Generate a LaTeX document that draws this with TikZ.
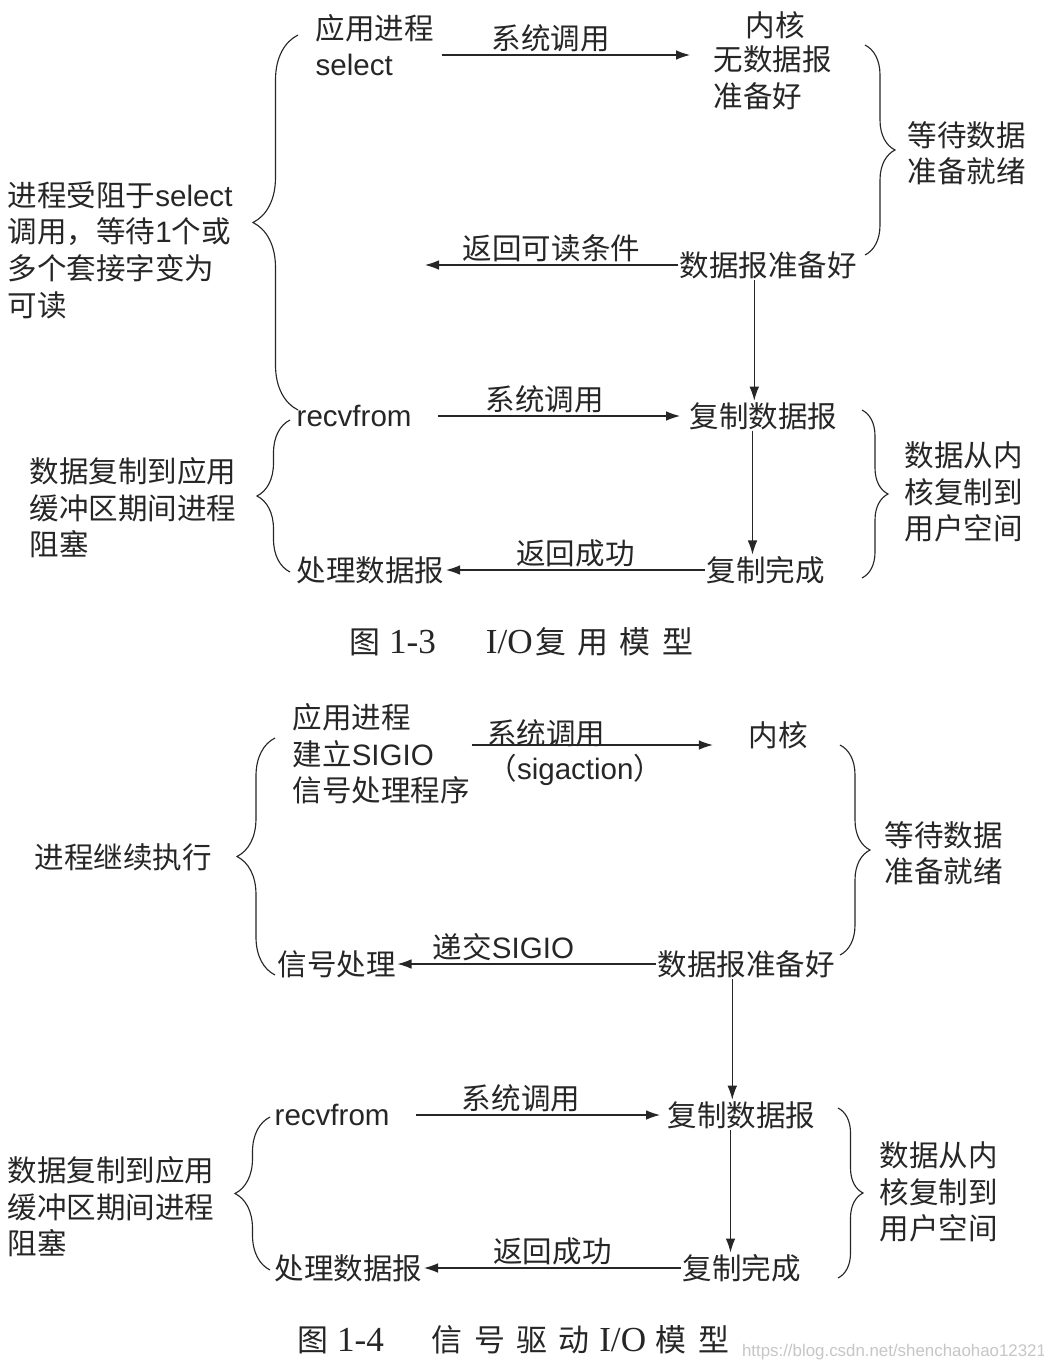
\documentclass[tikz,border=0pt]{standalone}
\usepackage{fontspec}
\setmainfont{Liberation Sans}
\newfontfamily\cjk{Noto Sans CJK SC}
\newfontfamily\ltn{Liberation Sans}
\newfontfamily\capserif{Liberation Serif}
\usetikzlibrary{arrows.meta,calc,decorations.pathreplacing}
\colorlet{ink}{black!85}

\begin{document}
\begin{tikzpicture}[x=0.025cm, y=-0.025cm, font=\fontsize{21}{26}\selectfont\cjk,
	txt/.style={anchor=west, align=left, inner sep=1pt, text=ink},
	lab/.style={inner sep=2pt, text=ink},
	capt/.style={inner sep=1pt, text=ink, font=\fontsize{22}{26}\selectfont\cjk},
	flow/.style={draw=ink, line width=0.8pt, -{Latex[length=3.5mm,width=2.4mm]}},
	brc/.style={draw=ink, line width=0.8pt, decorate, decoration={brace, amplitude=#1}}]
	\fill[white] (0,0) rectangle (1044,1368);
	\useasboundingbox (0,0) rectangle (1044,1368);

	\node[txt] (app1) at (314,45) {应用进程\\{\ltn select}};
	\node[txt, anchor=center] (kern1) at (775,25) {内核};
	\node[txt] (nodata) at (712,78) {无数据报\\准备好};
	\node[txt] (wait1) at (906,153) {等待数据\\准备就绪};
	\node[txt] (ready1) at (678,265) {数据报准备好};
	\node[txt] (blk1) at (6,250) {进程受阻于{\ltn select}\\调用，等待{\ltn 1}个或\\多个套接字变为\\可读};
	\node[txt] (recv1) at (295,416) {\ltn recvfrom};
	\node[txt] (copy1) at (688,416) {复制数据报};
	\node[txt] (done1) at (705,570) {复制完成};
	\node[txt] (proc1) at (295,570) {处理数据报};
	\node[txt] (cpblk1) at (28,508) {数据复制到应用\\缓冲区期间进程\\阻塞};
	\node[txt] (cpk1) at (903,492) {数据从内\\核复制到\\用户空间};
	\node[capt, anchor=west] (cap1) at (348,642) {图\hspace{6pt}{\capserif\fontsize{25}{26}\selectfont 1-3}\hspace{1.25cm}{\capserif\fontsize{25}{26}\selectfont I/O}\hspace{2pt}复\hspace{8pt}用\hspace{8pt}模\hspace{8pt}型};
	\coordinate (ret1) at (425,265);
	\coordinate (c1) at ($(ready1.south)+(-14,0)$);
	\coordinate (c2) at ($(copy1.south)+(-11,0)$);

	\draw[flow] ($(app1.east)+(6,10)$) -- node[lab, pos=.44, above] {系统调用} ($(nodata.west)+(-22,-23)$);
	\draw[flow] (ready1.west) -- node[lab, above] {返回可读条件} (ret1);
	\draw[flow] (c1) -- (c1 |- copy1.north);
	\draw[flow] ($(recv1.east)+(25,0)$) -- node[lab, pos=.44, above] {系统调用} ($(copy1.west)+(-8,0)$);
	\draw[flow] (c2) -- (c2 |- done1.north);
	\draw[flow] (done1.west) -- node[lab, above] {返回成功} (proc1.east);
	\draw[brc=1.125cm] (298,410) -- (298,35);
	\draw[brc=0.75cm] (865,45) -- (865,255);
	\draw[brc=0.825cm] (290,572) -- (290,420);
	\draw[brc=0.65cm] (862,410) -- (862,578);

	\node[txt] (app2) at (291,754) {应用进程\\建立{\ltn SIGIO}\\信号处理程序};
	\node[txt, anchor=center] (kern2) at (778,735) {内核};
	\node[txt] (wait2) at (883,853) {等待数据\\准备就绪};
	\node[txt] (cont2) at (33,857) {进程继续执行};
	\node[txt] (sig2) at (276,964) {信号处理};
	\node[txt] (ready2) at (656,964) {数据报准备好};
	\node[txt] (recv2) at (273,1115) {\ltn recvfrom};
	\node[txt] (copy2) at (666,1115) {复制数据报};
	\node[txt] (done2) at (681,1268) {复制完成};
	\node[txt] (proc2) at (273,1268) {处理数据报};
	\node[txt] (cpblk2) at (6,1207) {数据复制到应用\\缓冲区期间进程\\阻塞};
	\node[txt] (cpk2) at (878,1192) {数据从内\\核复制到\\用户空间};
	\node[capt, anchor=west] (cap2) at (296,1340) {图\hspace{6pt}{\capserif\fontsize{25}{26}\selectfont 1-4}\hspace{1.2cm}信\hspace{8pt}号\hspace{8pt}驱\hspace{8pt}动\hspace{7pt}{\capserif\fontsize{25}{26}\selectfont I/O}\hspace{7pt}模\hspace{8pt}型};
	\node[lab, font=\fontsize{12}{14}\selectfont\ltn, text=gray!45] (wm) at (894,1352) {https://blog.csdn.net/shenchaohao12321};
	\coordinate (c3) at ($(ready2.south)+(-14,0)$);
	\coordinate (c4) at ($(copy2.south)+(-11,0)$);

	\draw[flow] ($(app2.east)+(0,-9)$) -- node[lab, pos=.31, yshift=0.3cm] {系统调用} node[lab, pos=.43, yshift=-0.62cm] {（{\ltn sigaction}）} ($(kern2.west)+(-34,10)$);
	\draw[flow] (ready2.west) -- node[lab, pos=.59, above] {递交{\ltn SIGIO}} (sig2.east);
	\draw[flow] (c3) -- (c3 |- copy2.north);
	\draw[flow] ($(recv2.east)+(25,0)$) -- node[lab, pos=.43, above] {系统调用} ($(copy2.west)+(-6,0)$);
	\draw[flow] (c4) -- (c4 |- done2.north);
	\draw[flow] (done2.west) -- node[lab, above] {返回成功} (proc2.east);
	\draw[brc=0.95cm] (275,975) -- (275,738);
	\draw[brc=0.75cm] (840,745) -- (840,955);
	\draw[brc=0.875cm] (270,1270) -- (270,1117);
	\draw[brc=0.625cm] (838,1108) -- (838,1278);
\end{tikzpicture}
\end{document}
